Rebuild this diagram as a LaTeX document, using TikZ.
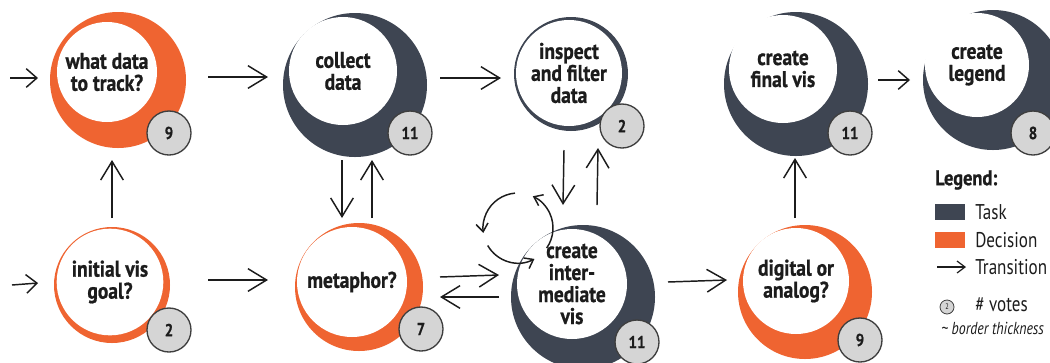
\documentclass[tikz,border=0pt]{standalone}
\usepackage{fontspec}
\setmainfont{PT Sans}[FakeStretch=0.86, BoldFeatures={FakeBold=0.8}]
\newfontfamily\legfont{PT Sans}[FakeStretch=0.8]
\usetikzlibrary{arrows.meta,calc}
\definecolor{orng}{HTML}{EF6431}
\definecolor{slate}{HTML}{3E4552}
\definecolor{votegray}{HTML}{D5D5D5}
\definecolor{ink}{HTML}{1C1C1C}
\tikzset{
  outerring/.style={circle, inner sep=0pt, outer sep=0pt, minimum size=#1},
  inner/.style={circle, fill=white, inner sep=0pt, outer sep=0pt, minimum size=#1,
    align=center, text=ink, font=\bfseries\fontsize{17}{16.5}\selectfont},
  vote/.style={circle, fill=votegray, draw=ink!85, line width=1pt, inner sep=0pt,
    minimum size=33pt, text=ink, font=\bfseries\fontsize{13}{13}\selectfont},
  tr/.style={draw=ink, line width=1.1pt, -{Straight Barb[length=14pt,width=17pt]}},
  trsmall/.style={draw=ink, line width=1.1pt, -{Straight Barb[length=8pt,width=14pt]}},
  looparr/.style={draw=ink, line width=1.1pt, -{Straight Barb[length=6pt,width=9pt]}},
  legtext/.style={anchor=west, inner sep=0pt, text=ink, font=\legfont\fontsize{16}{18}\selectfont},
  legbox/.style={inner sep=0pt, minimum width=22.5pt, minimum height=12pt}
}
\begin{document}
\begin{tikzpicture}[x=0.75pt,y=-0.75pt]
\useasboundingbox[fill=white] (0,0) rectangle (1050,362);
\clip (0,0) rectangle (1050,362);

% top row
\node[outerring=102pt, fill=orng] (whatdata) at (118,80) {};
\node[inner=75pt] (whatdata-t) at (107,72) {what data\\to track?};
\node[vote] (whatdata-v) at (169,133) {9};

\node[outerring=108pt, fill=slate] (collect) at (355,85) {};
\node[inner=81pt] (collect-t) at (343,71) {collect\\data};
\node[vote] (collect-v) at (410,133) {11};

\node[outerring=85.5pt, fill=slate] (inspect) at (571,74) {};
\node[inner=79.5pt] (inspect-t) at (569,73) {inspect\\and filter\\data};
\node[vote] (inspect-v) at (622,126) {2};

\node[outerring=108pt, fill=slate] (finalvis) at (796,84) {};
\node[inner=81pt] (finalvis-t) at (783,69) {create\\final vis};
\node[vote] (finalvis-v) at (850,133) {11};

\node[outerring=105pt, fill=slate] (legendn) at (993,80) {};
\node[inner=78pt] (legendn-t) at (977,65) {create\\legend};
\node[vote] (legendn-v) at (1033,133) {8};

% bottom row
\node[outerring=87pt, fill=orng] (initial) at (112,285) {};
\node[inner=80pt] (initial-t) at (110,282) {initial vis\\goal?};
\node[vote] (initial-v) at (169,330) {2};

\node[outerring=96pt, fill=orng] (metaphor) at (359,287) {};
\node[inner=82.5pt] (metaphor-t) at (352,282) {metaphor?};
\node[vote] (metaphor-v) at (421,329) {7};

\node[outerring=108pt, fill=slate] (inter) at (583,297) {};
\node[inner=82.5pt] (inter-t) at (572,284) {create\\inter-\\mediate\\vis};
\node[vote] (inter-v) at (637,342) {11};

\node[outerring=100.5pt, fill=orng] (digital) at (805,292) {};
\node[inner=79.5pt] (digital-t) at (796,281) {digital or\\analog?};
\node[vote] (digital-v) at (860,340) {9};

% entry points
\coordinate (start1) at (10,78);
\coordinate (start2) at (12,285);
\draw[trsmall] (start1) -- ($(whatdata.west)+(-12,-2)$);
\draw[trsmall] (start2) -- ($(initial.west)+(-16,-2)$);

% transitions
\draw[tr] ($(whatdata.east)+(22,-3)$) -- ($(collect.west)+(-15,-8)$);
\draw[tr] ($(collect.east)+(13,-7)$) -- ($(inspect.west)+(-13,4)$);
\draw[trsmall] ($(finalvis.east)+(10,-4)$) -- ($(legendn.west)+(-13,0)$);
\draw[tr] ($(initial.east)+(38,-5)$) -- ($(metaphor.west)+(-27,-7)$);
\draw[tr] ($(metaphor.east)+(17,-10)$) -- ($(inter.west)+(-12,-22)$);
\draw[tr] ($(inter.west)+(-12,0)$) -- ($(metaphor.east)+(17,10)$);
\draw[tr] ($(inter.east)+(13,-15)$) -- ($(digital.west)+(-11,-12)$);
\draw[tr] ($(initial.north)+(0,-9)$) -- ($(whatdata.south)+(-6,12)$);
\draw[tr] ($(collect.south)+(-13,3)$) -- ($(metaphor.north)+(-17,-5)$);
\draw[tr] ($(metaphor.north)+(13,-5)$) -- ($(collect.south)+(17,3)$);
\draw[tr] ($(inspect.south)+(-7,19)$) -- ($(inter.north)+(-20,-20)$);
\draw[tr] ($(inter.north)+(14,-20)$) -- ($(inspect.south)+(27,17)$);
\draw[tr] ($(digital.north)+(-10,-7)$) -- ($(finalvis.south)+(-1,2)$);

% iteration loop
\coordinate (loop) at ($(inter.north)+(-65,3)$);
\draw[looparr] ($(loop)+(265:35)$) arc[start angle=265, end angle=172, radius=35];
\draw[looparr] ($(loop)+(150:35)$) arc[start angle=150, end angle=62, radius=35];
\draw[looparr] ($(loop)+(35:35)$) arc[start angle=35, end angle=-65, radius=35];

% legend
\node[anchor=west, inner sep=0pt, text=ink, font=\bfseries\fontsize{16}{18}\selectfont] (leghead) at (935,180) {Legend:};
\node[legbox, fill=slate] (legtask) at (950,212) {};
\node[legtext] (legtask-t) at (975,212) {Task};
\node[legbox, fill=orng] (legdec) at (950,240) {};
\node[legtext] (legdec-t) at (975,240) {Decision};
\coordinate (legtra-a) at (937,267);
\coordinate (legtra-b) at (966,267);
\draw[draw=ink, line width=0.9pt, -{Straight Barb[length=6pt,width=9pt]}] (legtra-a) -- (legtra-b);
\node[legtext] (legtra-t) at (975,267) {Transition};
\node[vote, minimum size=10.5pt, line width=0.6pt, font=\legfont\fontsize{6}{6}\selectfont] (legvote) at (947,307) {2};
\node[legtext] (legvote-t) at (975,305) {\# votes};
\node[anchor=west, inner sep=0pt, text=ink, font=\legfont\itshape\fontsize{13}{14}\selectfont] (legthick) at (941,328) {\textasciitilde{} border thickness};
\end{tikzpicture}
\end{document}
